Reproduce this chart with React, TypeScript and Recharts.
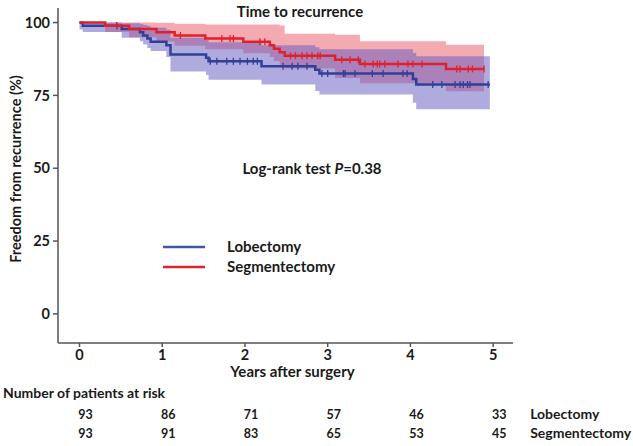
import React from "react";
import {
  ComposedChart,
  Area,
  Line,
  Scatter,
  XAxis,
  YAxis,
  Label,
} from "recharts";

// Kaplan-Meier step points (years, % free from recurrence)
const lobTimes = [0, 0.04, 0.51, 0.73, 0.77, 0.82, 0.86, 1.05, 1.1, 1.53, 1.56, 2.2, 2.85, 2.9, 4.03, 4.07, 4.96];
const lobSurv = [100, 98.9, 97.8, 96.7, 95.6, 94.5, 93.4, 92.2, 89.0, 87.9, 86.7, 85.0, 83.8, 82.5, 80.6, 78.7, 78.7];
const lobLower = [97.6, 96.8, 94.8, 93.6, 92.5, 91.3, 90.2, 88.2, 83.2, 82.0, 80.4, 78.7, 76.5, 75.3, 72.5, 70.2, 70.2];
const lobUpper = [100, 100, 99.8, 99.5, 99.2, 98.8, 98.2, 97.5, 94.8, 94.0, 93.2, 92.2, 91.5, 90.8, 89.6, 88.4, 88.4];

const segTimes = [0, 0.31, 0.6, 0.93, 1.15, 1.52, 1.98, 2.3, 2.35, 2.42, 2.48, 3.09, 3.39, 4.43, 4.89];
const segSurv = [100, 98.9, 97.8, 96.7, 95.6, 94.5, 93.4, 92.2, 91.0, 89.8, 88.6, 87.2, 85.8, 84.1, 84.1];
const segLower = [100, 96.8, 95.0, 93.5, 92.0, 90.8, 89.5, 88.2, 86.8, 85.5, 84.2, 81.0, 79.2, 76.4, 76.4];
const segUpper = [100, 100, 100, 99.9, 99.6, 99.3, 99.3, 99.3, 99.3, 99.0, 96.2, 95.8, 93.6, 92.4, 92.4];

// censoring marks (years)
const lobCensor = [0.45, 1.58, 1.66, 1.78, 1.86, 1.94, 2.03, 2.1, 2.15, 2.46, 2.57, 2.64, 2.75, 2.93, 3.0, 3.19, 3.21, 3.33, 3.54, 3.67, 3.91, 3.96, 4.27, 4.38, 4.54, 4.6, 4.64, 4.69, 4.72, 4.94];
const segCensor = [0.45, 1.22, 1.72, 1.82, 1.86, 2.18, 2.24, 2.55, 2.61, 2.69, 2.75, 2.81, 2.88, 2.91, 3.17, 3.27, 3.37, 3.45, 3.55, 3.6, 3.63, 3.69, 3.85, 3.97, 4.03, 4.14, 4.56, 4.6, 4.7, 4.75, 4.89];

// number at risk
const years = [0, 1, 2, 3, 4, 5];
const lobRisk = [93, 86, 71, 57, 46, 33];
const segRisk = [93, 91, 83, 65, 53, 45];

const yTicks = [0, 25, 50, 75, 100];

const FONT = 'Lato, "Open Sans", sans-serif';
const BLUE = "#323f96";
const RED = "#e2202b";

const stepAt = (times: number[], vals: number[], t: number) => {
  let v = vals[0];
  times.forEach((x, i) => {
    if (x <= t) v = vals[i];
  });
  return v;
};

const curve = (times: number[], vals: number[]) => times.map((t, i) => ({ t, s: vals[i] }));
const band = (times: number[], lo: number[], hi: number[]) =>
  times.map((t, i) => ({ t, range: [lo[i], hi[i]] }));
const marks = (cens: number[], times: number[], vals: number[]) =>
  cens.map((t) => ({ t, s: stepAt(times, vals, t) }));

const censorShape = (color: string) => (props: any) => {
  const { cx, cy } = props;
  return <line x1={cx} x2={cx} y1={cy - 3.5} y2={cy + 3.5} stroke={color} strokeWidth={1.3} />;
};

const txt = { fontFamily: FONT, fontWeight: 700, fill: "#1a1a1a" } as const;

// year tick plus the at-risk table underneath it
const YearTick = (props: any) => {
  const { x, y, payload } = props;
  const i = years.indexOf(payload.value);
  const last = i === years.length - 1;
  return (
    <g>
      <text x={x} y={y + 11} textAnchor="middle" {...txt} fontSize={14.5}>
        {payload.value}
      </text>
      <text x={x + 6} y={y + 70} textAnchor="middle" {...txt} fontSize={12.5}>
        {lobRisk[i]}
      </text>
      <text x={x + 6} y={y + 89} textAnchor="middle" {...txt} fontSize={12.5}>
        {segRisk[i]}
      </text>
      {last && (
        <>
          <text x={x + 37} y={y + 70} {...txt} fontSize={14}>
            Lobectomy
          </text>
          <text x={x + 37} y={y + 89} {...txt} fontSize={14}>
            Segmentectomy
          </text>
        </>
      )}
    </g>
  );
};

export default function App() {
  return (
    <div style={{ width: 633, height: 446, background: "#fff" }}>
      <style>{`body{margin:0}`}</style>
      <ComposedChart width={633} height={446} margin={{ top: 8, right: 120, bottom: 67, left: 0 }}>
        <XAxis
          type="number"
          dataKey="t"
          domain={[-0.26, 5.24]}
          ticks={years}
          allowDataOverflow
          height={36}
          stroke="#555"
          strokeWidth={1.5}
          tickSize={4}
          tickMargin={2}
          tick={YearTick}
        >
          <Label value="Years after surgery" position="insideBottom" offset={2} dx={7} style={{ ...txt, fontSize: 15 }} />
        </XAxis>
        <YAxis
          type="number"
          domain={[-10, 105]}
          ticks={yTicks}
          allowDataOverflow
          width={58}
          stroke="#555"
          strokeWidth={1.5}
          tickSize={5}
          tickMargin={3}
          tick={{ fontFamily: FONT, fontWeight: 700, fontSize: 14.5, fill: "#1a1a1a" }}
        />

        <Area
          data={band(segTimes, segLower, segUpper)}
          dataKey="range"
          type="stepAfter"
          stroke="none"
          fill="#ea5564"
          fillOpacity={0.5}
          isAnimationActive={false}
        />
        <Area
          data={band(lobTimes, lobLower, lobUpper)}
          dataKey="range"
          type="stepAfter"
          stroke="none"
          fill="#5f58c0"
          fillOpacity={0.5}
          isAnimationActive={false}
        />
        <Line
          data={curve(lobTimes, lobSurv)}
          dataKey="s"
          type="stepAfter"
          stroke={BLUE}
          strokeWidth={2.5}
          dot={false}
          isAnimationActive={false}
        />
        <Line
          data={curve(segTimes, segSurv)}
          dataKey="s"
          type="stepAfter"
          stroke={RED}
          strokeWidth={2.5}
          dot={false}
          isAnimationActive={false}
        />
        <Scatter
          data={marks(lobCensor, lobTimes, lobSurv)}
          dataKey="s"
          shape={censorShape(BLUE)}
          isAnimationActive={false}
        />
        <Scatter
          data={marks(segCensor, segTimes, segSurv)}
          dataKey="s"
          shape={censorShape(RED)}
          isAnimationActive={false}
        />

        <text x={300} y={17} textAnchor="middle" {...txt} fontSize={15}>
          Time to recurrence
        </text>
        <text x={312} y={174} textAnchor="middle" {...txt} fontSize={15}>
          Log-rank test <tspan fontStyle="italic">P</tspan>=0.38
        </text>
        <text
          x={21}
          y={169}
          textAnchor="middle"
          transform="rotate(-90 21 169)"
          {...txt}
          fontSize={14.5}
        >
          Freedom from recurrence (%)
        </text>
        <text x={3} y={398} {...txt} fontSize={14}>
          Number of patients at risk
        </text>
        <g>
          <line x1={163} x2={205} y1={247} y2={247} stroke="#3a5aa8" strokeWidth={2.5} />
          <text x={227} y={252} {...txt} fontSize={15}>
            Lobectomy
          </text>
          <line x1={163} x2={205} y1={267} y2={267} stroke={RED} strokeWidth={2.5} />
          <text x={227} y={272} {...txt} fontSize={15}>
            Segmentectomy
          </text>
        </g>
      </ComposedChart>
    </div>
  );
}
